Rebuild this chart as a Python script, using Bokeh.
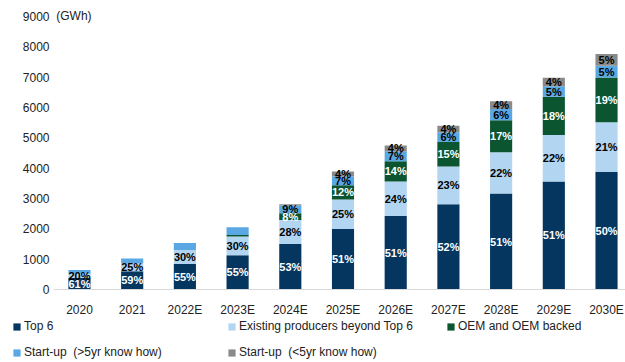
from bokeh.plotting import figure
from bokeh.models import ColumnDataSource, Range1d, Legend, LegendItem, Label, FixedTicker
from bokeh.core.properties import value
from bokeh.embed import file_html
from bokeh.resources import INLINE

categories = ["2020", "2021", "2022E", "2023E", "2024E", "2025E", "2026E", "2027E", "2028E", "2029E", "2030E"]
top6 = [390, 600, 840, 1125, 1500, 1990, 2420, 2810, 3160, 3560, 3880]
existing = [130, 255, 460, 620, 790, 975, 1140, 1240, 1365, 1535, 1630]
oem = [0, 0, 0, 50, 225, 470, 665, 810, 1055, 1255, 1475]
startup_gt5 = [120, 165, 230, 255, 255, 290, 330, 325, 370, 350, 390]
startup_lt5 = [0, 0, 0, 0, 40, 165, 190, 215, 250, 280, 385]

lab_top6 = ["61%", "59%", "55%", "55%", "53%", "51%", "51%", "52%", "51%", "51%", "50%"]
lab_existing = ["20%", "25%", "30%", "30%", "28%", "25%", "24%", "23%", "22%", "22%", "21%"]
lab_oem = ["", "", "", "", "8%", "12%", "14%", "15%", "17%", "18%", "19%"]
lab_gt5 = ["", "", "", "", "9%", "7%", "7%", "6%", "6%", "5%", "5%"]
lab_lt5 = ["", "", "", "", "", "4%", "4%", "4%", "4%", "4%", "5%"]

series_names = ["Top 6", "Existing producers beyond Top 6", "OEM and OEM backed",
                "Start-up  (>5yr know how)", "Start-up  (<5yr know how)"]
colors = ["#04365f", "#b2d5f1", "#0b5530", "#5aa8e3", "#8a8a8a"]
label_colors = ["white", "black", "white", "black", "black"]

FONT = "Liberation Sans"

xs = list(range(len(categories)))
keys = ["top6", "existing", "oem", "gt5", "lt5"]
series = [top6, existing, oem, startup_gt5, startup_lt5]
labels = [lab_top6, lab_existing, lab_oem, lab_gt5, lab_lt5]

src = ColumnDataSource(dict(x=xs, **{k: v for k, v in zip(keys, series)}))

p = figure(width=625, height=319, output_backend="svg", toolbar_location=None,
           x_range=Range1d(-0.493, 10.36), y_range=Range1d(0, 9524),
           min_border_left=53, min_border_right=0, min_border_top=0, min_border_bottom=28)
p.outline_line_color = None
p.xgrid.grid_line_color = None
p.ygrid.grid_line_color = None

renderers = p.vbar_stack(keys, x="x", width=0.42, color=colors, source=src, line_color=None)

# percentage labels
lx, ly, lt, lc = [], [], [], []
base = [0] * len(categories)
for vals, labs, col in zip(series, labels, label_colors):
    for i, (v, t) in enumerate(zip(vals, labs)):
        if t:
            lx.append(i)
            ly.append(base[i] + v / 2)
            lt.append(t)
            lc.append(col)
    base = [b + v for b, v in zip(base, vals)]
lsrc = ColumnDataSource(dict(x=lx, y=ly, t=lt, c=lc))
p.text(x="x", y="y", text="t", text_color="c", source=lsrc, text_align="center",
       text_baseline="middle", text_font=value(FONT), text_font_style="bold",
       text_font_size="11px")

# axes
p.xaxis.ticker = FixedTicker(ticks=xs)
p.xaxis.major_label_overrides = {i: c for i, c in enumerate(categories)}
p.xaxis.axis_line_color = "#d9d9d9"
p.xaxis.major_tick_line_color = None
p.xaxis.minor_tick_line_color = None
p.xaxis.major_tick_out = 0
p.xaxis.major_tick_in = 0
p.xaxis.major_label_standoff = 13
p.xaxis.major_label_text_font = FONT
p.xaxis.major_label_text_font_size = "12px"
p.xaxis.major_label_text_color = "#222222"

p.yaxis.ticker = FixedTicker(ticks=list(range(0, 9001, 1000)))
p.yaxis.axis_line_color = None
p.yaxis.major_tick_line_color = None
p.yaxis.minor_tick_line_color = None
p.yaxis.major_tick_out = 0
p.yaxis.major_tick_in = 0
p.yaxis.major_label_standoff = 4
p.yaxis.major_label_text_font = FONT
p.yaxis.major_label_text_font_size = "12px"
p.yaxis.major_label_text_color = "#222222"

p.add_layout(Label(x=-0.44, y=9000, text="(GWh)", text_baseline="middle",
                   text_font=FONT, text_font_size="12px", text_color="#222222"))

# legend strip as its own small figure
pl = figure(width=625, height=43, output_backend="svg", toolbar_location=None,
            x_axis_type=None, y_axis_type=None, x_range=Range1d(0, 1), y_range=Range1d(0, 1),
            min_border_left=0, min_border_right=0, min_border_top=0, min_border_bottom=0)
pl.outline_line_color = None
pl.xgrid.grid_line_color = None
pl.ygrid.grid_line_color = None
legend_pos = [(12, 29), (227, 29), (446, 29), (12, 3), (227, 3)]
for name, col, pos in zip(series_names, colors, legend_pos):
    r = pl.vbar(x=[5], top=[0.5], width=0.1, color=col, line_color=None)
    lg = Legend(items=[LegendItem(label=name, renderers=[r])], location=pos,
                orientation="horizontal", padding=0, margin=0, spacing=0,
                glyph_width=9, glyph_height=9, label_standoff=3, label_height=14,
                label_text_font=FONT, label_text_font_size="12px",
                label_text_color="#222222", border_line_color=None,
                background_fill_alpha=0)
    pl.add_layout(lg)

open("out.html", "w").write(file_html([p, pl], INLINE))
